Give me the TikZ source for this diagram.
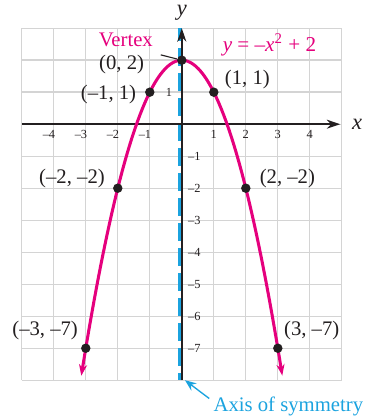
\documentclass[tikz,border=0pt]{standalone}
\usepackage{fontspec}
\setmainfont{Liberation Serif}
\usetikzlibrary{arrows.meta,calc}
\definecolor{curve}{HTML}{E5007D}
\definecolor{symaxis}{HTML}{1BA3DF}
\definecolor{gridline}{HTML}{D4D4D4}
\definecolor{ink}{HTML}{231F20}

\begin{document}
\begin{tikzpicture}[x=0.5cm,y=0.5cm,
  pt/.style={circle,fill=ink,inner sep=0pt,minimum size=4.2pt},
  lbl/.style={font=\fontsize{9.2}{11}\selectfont,text=ink},
  ticklbl/.style={font=\fontsize{5.5}{6}\selectfont,text=ink,inner sep=1pt},
]
  \useasboundingbox (-5.68,-9.18) rectangle (5.73,3.88);
  \draw[gridline,line width=0.6pt,step=1] (-5,-8) grid (5,3);

  % axis of symmetry and axes
  \draw[symaxis,line width=1.8pt,dash pattern=on 8.1pt off 3pt,dash phase=2.2pt] (-0.07,3) -- (-0.07,-8);
  \draw[ink,line width=0.65pt,-{Stealth[length=6pt,width=4pt]}] (-5,0) -- (4.95,0);
  \draw[ink,line width=0.65pt,-{Stealth[length=6pt,width=4pt]}] (0,-8) -- (0,3);
  \node[lbl,font=\fontsize{10}{12}\selectfont\itshape] (xlbl) at (5.48,0) {x};
  \node[lbl,font=\fontsize{10}{12}\selectfont\itshape] (ylbl) at (0,3.47) {y};

  \foreach \n in {1,...,4} {
    \node[ticklbl] (xp\n) at (\n,-0.33) {\n};
    \node[ticklbl] (xm\n) at (-\n-0.15,-0.33) {–\n};
  }
  \foreach \n in {1,...,7}
    \node[ticklbl] (ym\n) at (0.39,-\n) {–\n};
  \node[ticklbl] (yp1) at (-0.4,1) {1};

  % the parabola
  \draw[curve,line width=1.35pt,{Stealth[length=5pt,width=3.6pt]}-{Stealth[length=5pt,width=3.6pt]},
    domain=-3.14:3.14,samples=80] plot (\x,{2-(\x)^2});

  \node[pt] (p0) at (0,2) {};
  \foreach \x/\y/\nm in {-3/-7/pm3,-2/-2/pm2,-1/1/pm1,1/1/pp1,2/-2/pp2,3/-7/pp3}
    \node[pt] (\nm) at (\x,\y) {};

  \node[lbl] (l0) at (-1.88,1.85) {(0, 2)};
  \node[lbl] (lm1) at (-2.29,0.92) {(–1, 1)};
  \node[lbl] (lp1) at (2.05,1.38) {(1, 1)};
  \node[lbl] (lm2) at (-3.43,-1.69) {(–2, –2)};
  \node[lbl] (lp2) at (3.30,-1.69) {(2, –2)};
  \node[lbl] (lm3) at (-4.27,-6.46) {(–3, –7)};
  \node[lbl] (lp3) at (4.06,-6.46) {(3, –7)};

  \node[lbl,text=curve] (vtx) at (-1.75,2.63) {Vertex};
  \draw[ink,line width=0.5pt] (vtx.south east) -- (p0);
  \node[lbl,text=curve,font=\fontsize{9.4}{11}\selectfont] (eq) at (2.74,2.48)
    {\textit{y} = –\textit{x}\textsuperscript{2} + 2};

  \node[lbl,text=symaxis] (symlbl) at (3.33,-8.83) {Axis of symmetry};
  \coordinate (symfoot) at (0.1,-8.0);
  \draw[symaxis,line width=0.6pt,-{Stealth[length=5pt,width=4pt]}] ([shift={(0.11,0.26)}]symlbl.west) -- (symfoot);
\end{tikzpicture}
\end{document}
